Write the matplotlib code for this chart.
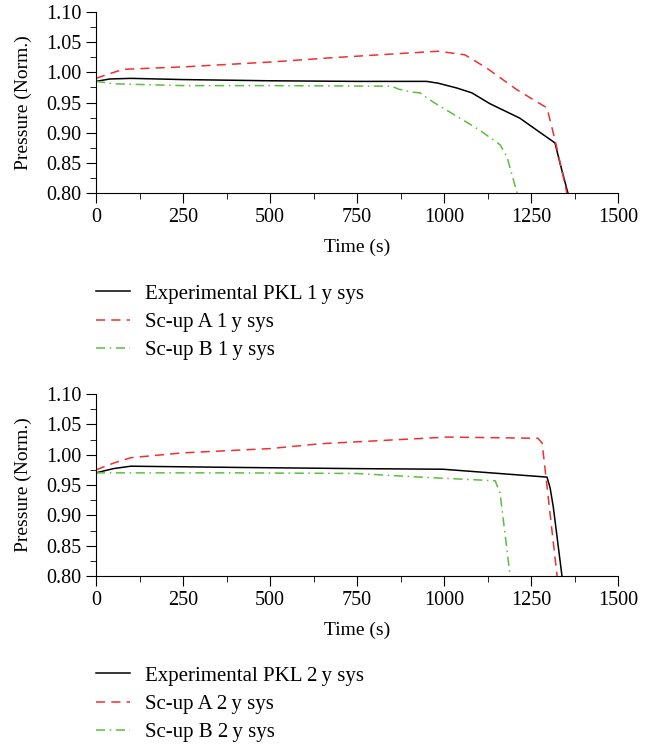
import matplotlib
matplotlib.use("Agg")
import matplotlib.pyplot as plt
from matplotlib.ticker import MultipleLocator

plt.rcParams['font.family'] = ['Liberation Serif', 'DejaVu Serif']
plt.rcParams['font.size'] = 14

# panel 1 (1 y sys)
exp1_t = [0, 40, 100, 250, 500, 750, 950, 983, 1037, 1080, 1132, 1218, 1267, 1319, 1333, 1356]
exp1_p = [0.985, 0.989, 0.990, 0.988, 0.986, 0.985, 0.985, 0.982, 0.974, 0.966, 0.948, 0.924, 0.904, 0.883, 0.850, 0.800]
a1_t = [0, 30, 78, 250, 500, 672, 983, 1060, 1123, 1210, 1296, 1319, 1353]
a1_p = [0.990, 0.996, 1.005, 1.009, 1.017, 1.024, 1.035, 1.029, 1.007, 0.971, 0.941, 0.888, 0.800]
b1_t = [0, 50, 250, 500, 850, 870, 911, 931, 968, 1046, 1103, 1161, 1181, 1210]
b1_p = [0.985, 0.981, 0.978, 0.978, 0.977, 0.972, 0.967, 0.966, 0.951, 0.924, 0.904, 0.880, 0.860, 0.800]

# panel 2 (2 y sys)
exp2_t = [0, 50, 100, 400, 750, 997, 1296, 1305, 1314, 1339]
exp2_p = [0.970, 0.977, 0.981, 0.979, 0.977, 0.976, 0.963, 0.945, 0.914, 0.800]
a2_t = [0, 50, 100, 250, 500, 644, 1009, 1270, 1282, 1325]
a2_p = [0.975, 0.986, 0.995, 1.003, 1.010, 1.018, 1.029, 1.027, 1.019, 0.800]
b2_t = [0, 100, 400, 750, 931, 1147, 1161, 1190]
b2_p = [0.970, 0.970, 0.970, 0.969, 0.963, 0.957, 0.937, 0.800]

panels = [
    ((exp1_t, exp1_p), (a1_t, a1_p), (b1_t, b1_p), "1"),
    ((exp2_t, exp2_p), (a2_t, a2_p), (b2_t, b2_p), "2"),
]

W, H = 651, 746
fig = plt.figure(figsize=(W / 100, H / 100), dpi=100)

axes_px = [(96, 12, 618, 193), (96, 394, 618, 576)]
legend_top = [284, 666]

for (exp, a, b, yrs), (x0, y0, x1, y1), ltop in zip(panels, axes_px, legend_top):
    ax = fig.add_axes([x0 / W, 1 - y1 / H, (x1 - x0) / W, (y1 - y0) / H])
    ax.plot(exp[0], exp[1], color='black', lw=1.1, label=f'Experimental PKL {yrs}\u2009y sys')
    ax.plot(a[0], a[1], color='#f03030', lw=1.1, ls=(0, (6, 4)), label=f'Sc-up A {yrs}\u2009y sys')
    ax.plot(b[0], b[1], color='#5cbf3c', lw=1.1, ls=(0, (6, 3, 1, 3)), label=f'Sc-up B {yrs}\u2009y sys')
    ax.set_xlim(0, 1500)
    ax.set_ylim(0.80, 1.10)
    ax.xaxis.set_major_locator(MultipleLocator(250))
    ax.xaxis.set_minor_locator(MultipleLocator(125))
    ax.yaxis.set_major_locator(MultipleLocator(0.05))
    ax.yaxis.set_minor_locator(MultipleLocator(0.025))
    ax.yaxis.set_major_formatter(plt.FormatStrFormatter('%.2f'))
    ax.spines['top'].set_visible(False)
    ax.spines['right'].set_visible(False)
    ax.tick_params(which='major', direction='out', length=7, labelsize=14.5)
    ax.tick_params(which='minor', direction='out', length=4)
    ax.set_xlabel('Time (s)', fontsize=14, labelpad=9)
    ax.set_ylabel('Pressure (Norm.)', fontsize=14, labelpad=10)
    handles, labels = ax.get_legend_handles_labels()
    fig.legend(handles, labels, loc='upper left', bbox_to_anchor=(96 / W, 1 - ltop / H),
               frameon=False, borderpad=0, borderaxespad=0, handlelength=1.65,
               handletextpad=0.72, labelspacing=0.42, fontsize=15)

fig.savefig('out.png', dpi=100)
